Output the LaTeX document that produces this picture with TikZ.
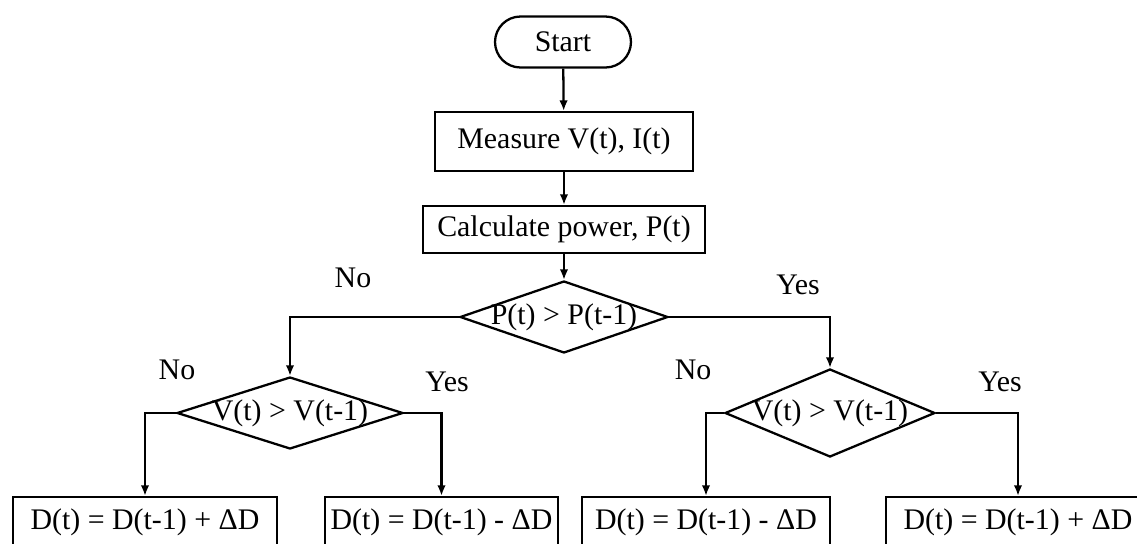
\documentclass[tikz,border=0pt]{standalone}
\usepackage{fontspec}
\setmainfont{Liberation Serif}
\usetikzlibrary{shapes.geometric,shapes.misc,arrows.meta}

\tikzset{
  base/.style={draw, line width=1.3pt, inner sep=2pt, font=\fontsize{17}{20}\selectfont},
  startbox/.style={base, rounded rectangle, minimum width=2.86cm, minimum height=1.02cm},
  procbox/.style={base, rectangle, minimum height=0.94cm},
  testbox/.style={base, diamond, shape aspect=3, inner sep=-6pt},
  branch/.style={font=\fontsize{17}{20}\selectfont},
  flow/.style={line width=1.3pt, -{Latex[length=0.21cm, width=0.17cm]}},
}

\begin{document}
\begin{tikzpicture}
        \useasboundingbox (0,0) rectangle (22.74,-10.88);
        \clip (0,0) rectangle (22.74,-10.88);
        % top of the chart
        \node[startbox] (start) at (11.26,-0.84) {Start};
        \node[procbox, minimum width=5.16cm, minimum height=1.18cm] (measure) at (11.28,-2.83) {Measure V(t), I(t)};
        \node[procbox, minimum width=5.64cm] (power) at (11.28,-4.59) {Calculate power, P(t)};
        % decisions
        \node[testbox, minimum width=4.16cm, minimum height=1.44cm] (cmpP) at (11.28,-6.34) {P(t) > P(t-1)};
        \node[testbox, minimum width=4.52cm, minimum height=1.44cm] (cmpVl) at (5.80,-8.26) {V(t) > V(t-1)};
        \node[testbox, minimum width=4.20cm, minimum height=1.76cm] (cmpVr) at (16.60,-8.26) {V(t) > V(t-1)};
        % duty cycle updates
        \node[procbox, minimum width=5.28cm, minimum height=1.0cm] (incl) at (2.90,-10.44) {D(t) = D(t-1) + ΔD};
        \node[procbox, minimum width=4.66cm, minimum height=1.0cm] (decl) at (8.83,-10.44) {D(t) = D(t-1) - ΔD};
        \node[procbox, minimum width=4.96cm, minimum height=1.0cm] (decr) at (14.12,-10.44) {D(t) = D(t-1) - ΔD};
        \node[procbox, minimum width=5.28cm, minimum height=1.0cm] (incr) at (20.36,-10.44) {D(t) = D(t-1) + ΔD};

        \draw[flow] (start) -- (measure);
        \draw[flow] (measure) -- (power);
        \draw[flow] (power) -- (cmpP);
        \draw[flow] (cmpP.west) -| (cmpVl.north);
        \draw[flow] (cmpP.east) -| (cmpVr.north);
        \draw[flow] (cmpVl.west) -| (incl.north);
        \draw[flow] (cmpVl.east) -| (decl.north);
        \draw[flow] (cmpVr.west) -| (decr.north);
        \draw[flow] (cmpVr.east) -| (incr.north);

        % branch labels
        \node[branch] (noP) at (7.06,-5.56) {No};
        \node[branch] (yesP) at (15.96,-5.70) {Yes};
        \node[branch] (noVl) at (3.54,-7.40) {No};
        \node[branch] (yesVl) at (8.94,-7.64) {Yes};
        \node[branch] (noVr) at (13.86,-7.40) {No};
        \node[branch] (yesVr) at (20.00,-7.64) {Yes};
      \end{tikzpicture}
\end{document}
